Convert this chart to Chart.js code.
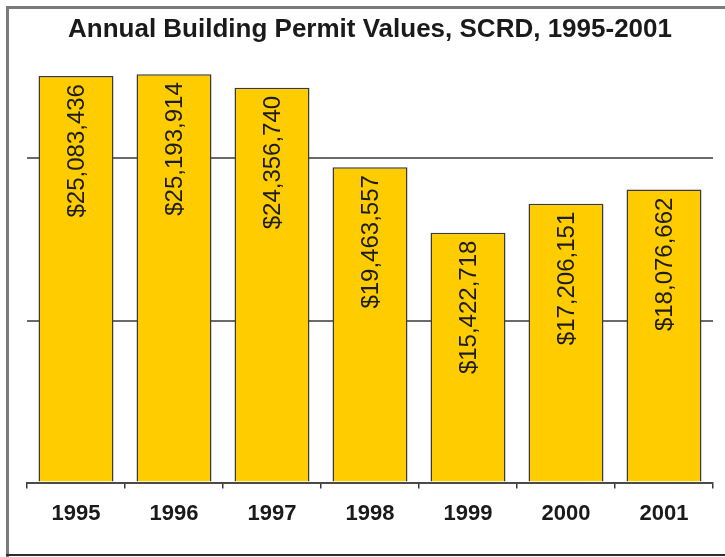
<!DOCTYPE html>
<html>
<head>
<meta charset="utf-8">
<script src="https://cdn.jsdelivr.net/npm/chart.js@4/dist/chart.umd.min.js"></script>
<style>
  html, body { margin: 0; padding: 0; background: #ffffff; }
  #wrap { position: relative; width: 725px; height: 557px; }
</style>
</head>
<body>
<div id="wrap"><canvas id="c" width="725" height="557"></canvas></div>
<script>
const titleText = 'Annual Building Permit Values, SCRD, 1995-2001';
const years = ['1995', '1996', '1997', '1998', '1999', '2000', '2001'];
const permitValues = [25083436, 25193914, 24356740, 19463557, 15422718, 17206151, 18076662];
const gridValues = [0, 10000000, 20000000];

const framePlugin = {
  id: 'frame',
  beforeDraw(chart) {
    const ctx = chart.ctx;
    ctx.save();
    ctx.fillStyle = '#ffffff';
    ctx.fillRect(0, 0, chart.width, chart.height);
    ctx.fillStyle = '#7a7a7a';
    ctx.fillRect(6, 6, chart.width - 6, 3);
    ctx.fillRect(6, 6, 3, chart.height - 6);
    ctx.fillStyle = '#2e2e2e';
    ctx.fillRect(6, chart.height - 3, chart.width - 6, 2);
    ctx.restore();
  }
};

const valueLabelPlugin = {
  id: 'valueLabels',
  afterDatasetsDraw(chart) {
    const ctx = chart.ctx;
    const meta = chart.getDatasetMeta(0);
    ctx.save();
    ctx.font = '24px "Liberation Sans", Arial, sans-serif';
    ctx.fillStyle = '#1c1c1c';
    ctx.textAlign = 'right';
    ctx.textBaseline = 'middle';
    meta.data.forEach((bar, i) => {
      const txt = '$' + permitValues[i].toLocaleString('en-US');
      ctx.save();
      ctx.translate(bar.x + 1, bar.y + 8);
      ctx.rotate(-Math.PI / 2);
      ctx.fillText(txt, 0, 0);
      ctx.restore();
    });
    ctx.restore();
  }
};

new Chart(document.getElementById('c'), {
  type: 'bar',
  data: {
    labels: years,
    datasets: [{
      data: permitValues,
      backgroundColor: '#FFCC00',
      borderColor: '#3a3a3a',
      borderWidth: 1.5,
      categoryPercentage: 1.0,
      barPercentage: 0.765
    }]
  },
  options: {
    responsive: false,
    animation: false,
    devicePixelRatio: 1,
    layout: { padding: { top: 10, left: 27, right: 12, bottom: 18 } },
    plugins: {
      legend: { display: false },
      tooltip: { enabled: false },
      title: {
        display: true,
        text: titleText,
        color: '#1a1a1a',
        font: { family: '"Liberation Sans", Arial, sans-serif', size: 26, weight: 'bold' },
        padding: { top: 4, bottom: 16 }
      }
    },
    scales: {
      x: {
        grid: {
          offset: true,
          drawOnChartArea: false,
          drawTicks: true,
          tickLength: 6,
          color: '#3a3a3a',
          lineWidth: 1.5
        },
        border: { display: true, color: '#4a4a4a', width: 2 },
        ticks: {
          color: '#1a1a1a',
          padding: 12,
          font: { family: '"Liberation Sans", Arial, sans-serif', size: 22, weight: 'bold' }
        }
      },
      y: {
        min: 0,
        max: 26000000,
        afterBuildTicks(axis) {
          axis.ticks = gridValues.map(v => ({ value: v }));
        },
        ticks: { display: false },
        grid: { drawTicks: false, color: '#6a6a6a', lineWidth: 2 },
        border: { display: false }
      }
    }
  },
  plugins: [framePlugin, valueLabelPlugin]
});
</script>
</body>
</html>
